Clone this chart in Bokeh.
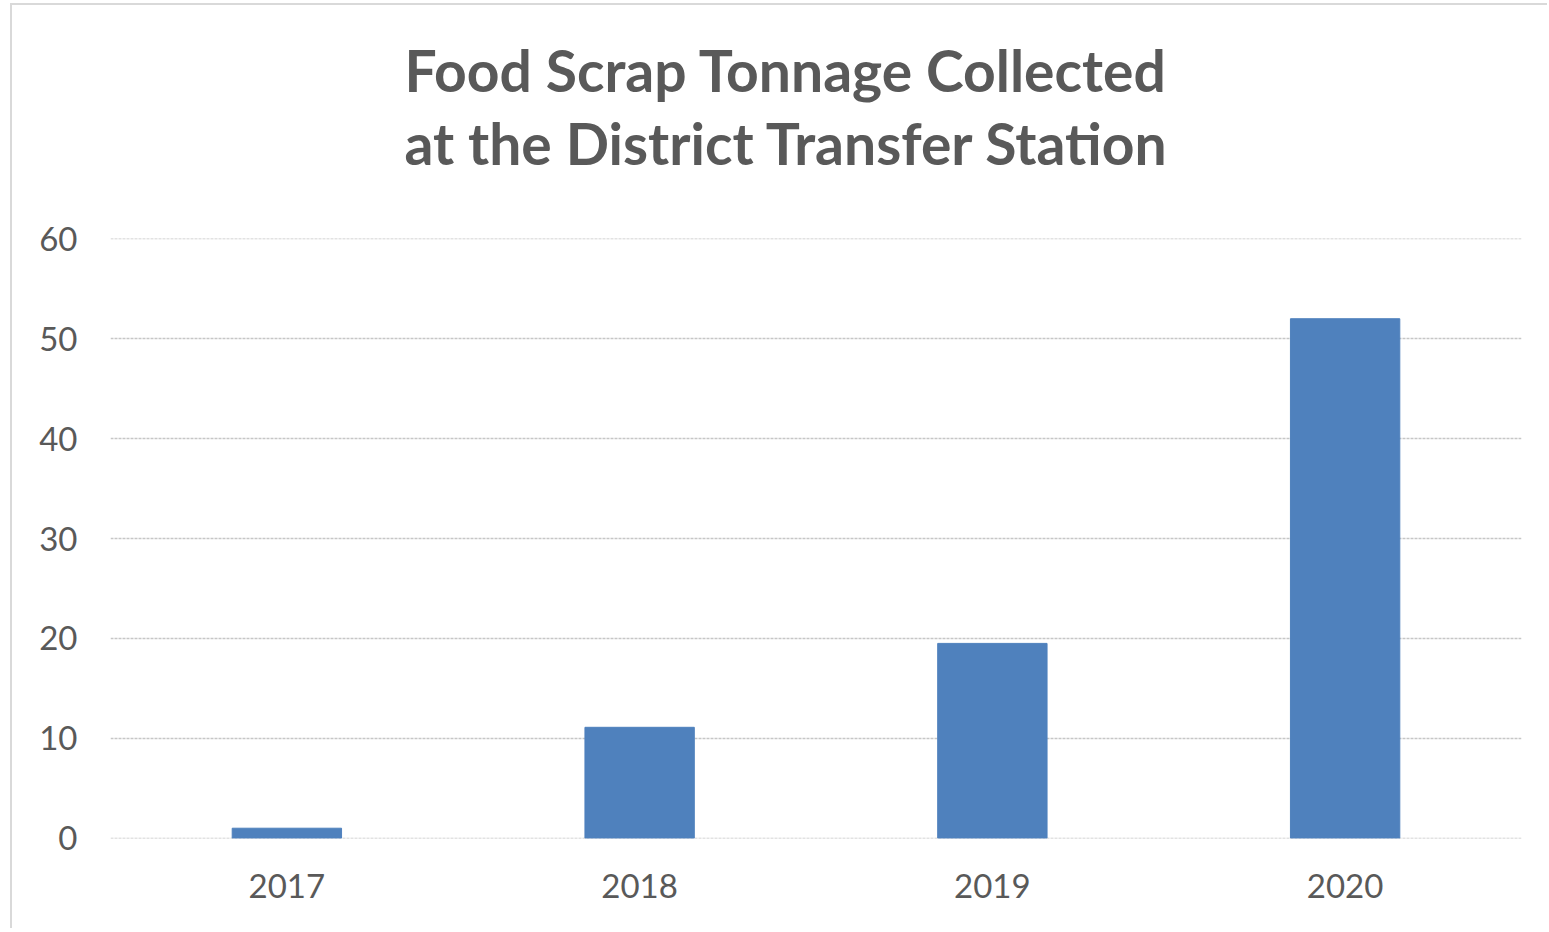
from bokeh.plotting import figure
from bokeh.models import ColumnDataSource, Title, Range1d, FixedTicker
from bokeh.embed import file_html
from bokeh.resources import INLINE

# Data
years = ["2017", "2018", "2019", "2020"]
tons = [1.0, 11.1, 19.5, 52.0]
y_ticks = [0, 10, 20, 30, 40, 50, 60]
title_lines = ["Food Scrap Tonnage Collected", "at the District Transfer Station"]

src = ColumnDataSource(data=dict(year=years, tons=tons))

p = figure(
    x_range=years,
    y_range=Range1d(-0.03, 60.03),
    width=1537, height=925,
    min_border_left=98, min_border_right=28,
    min_border_top=233, min_border_bottom=92,
    output_backend="svg", toolbar_location=None,
    tools="",
)
p.styles = {"border-left": "2px solid #d9d9d9", "border-top": "2px solid #d9d9d9",
            "margin-left": "10px", "margin-top": "3px"}
p.outline_line_color = None
p.background_fill_color = "white"
p.border_fill_color = "white"

p.vbar(x="year", top="tons", width=0.31, source=src,
       fill_color="#4f81bd", line_color="#4f81bd", line_width=1)

# grid
p.xgrid.grid_line_color = None
p.ygrid.grid_line_color = "#c6c6c6"
p.ygrid.grid_line_width = 1.5
p.ygrid.grid_line_dash = "3 1"
p.yaxis.ticker = FixedTicker(ticks=y_ticks)

for ax in (p.xaxis, p.yaxis):
    ax.axis_line_color = None
    ax.major_tick_line_color = None
    ax.minor_tick_line_color = None
    ax.major_tick_out = 0
    ax.major_tick_in = 0
    ax.major_label_text_font = "Lato"
    ax.major_label_text_font_size = "33px"
    ax.major_label_text_color = "#595959"

p.yaxis.major_label_standoff = 33
p.xaxis.major_label_standoff = 35

# spacer between the frame and the title block
p.add_layout(Title(text=" ", text_font_size="2px", standoff=52), "above")

# Title: one two-line block, placed from the right edge of the frame
p.add_layout(Title(
    text="\n".join(title_lines), align="right", offset=352, standoff=10,
    text_font="Lato", text_font_style="bold", text_line_height=1.08,
    text_font_size="57px", text_color="#595959",
), "above")

open("out.html", "w").write(file_html(p, INLINE))
